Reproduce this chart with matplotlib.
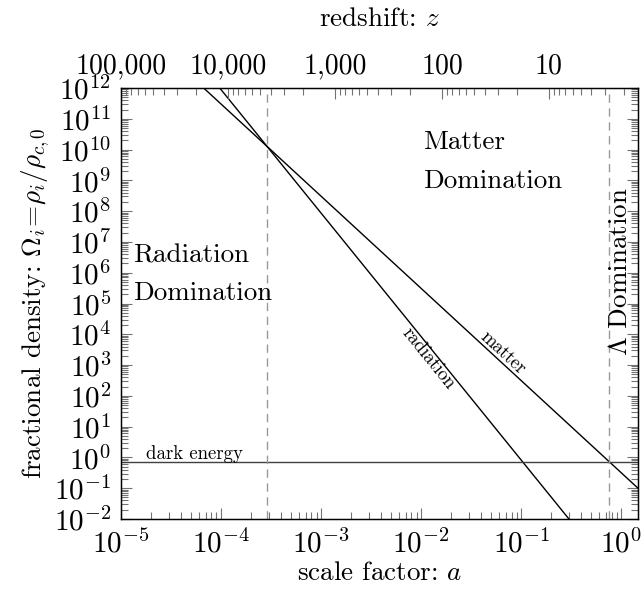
import matplotlib
matplotlib.use('Agg')
import matplotlib.pyplot as plt
import numpy as np
from matplotlib.ticker import LogLocator, NullFormatter, FixedLocator, FixedFormatter
from matplotlib.transforms import offset_copy

plt.rcParams.update({
    'font.family': 'serif',
    'font.serif': ['cmr10'],
    'mathtext.fontset': 'cm',
    'axes.formatter.use_mathtext': True,
    'font.size': 19.5,
})

# ---- data ----
radiation_a = [9.7e-5, 0.30]
radiation_rho = [1e12, 1e-2]
matter_a = [6.7e-5, 1.47]
matter_rho = [1e12, 0.1]
dark_a = [1e-5, 1.47]
dark_rho = [0.7, 0.7]
a_equality = 2.9e-4
a_lambda = 0.75
z_major = [100000, 10000, 1000, 100, 10]
z_labels = ['100,000', '10,000', '1,000', '100', '10']

a_lim = (1e-5, 1.47)
z_lim = (1e5, 1.47)
rho_lim = (1e-2, 1e12)

fig = plt.figure(figsize=(6.43, 5.97), dpi=100)
ax = fig.add_axes([121/643, 1-519/597, 517/643, 431/597])
ax.set_xscale('log')
ax.set_yscale('log')
ax.set_xlim(*a_lim)
ax.set_ylim(*rho_lim)

ax.plot(radiation_a, radiation_rho, color='black', lw=1.0)
ax.plot(matter_a, matter_rho, color='black', lw=1.0)
ax.plot(dark_a, dark_rho, color='0.25', lw=1.0)
ax.axvline(a_equality, color='0.6', ls=(0, (6, 4)), lw=1.0)
ax.axvline(a_lambda, color='0.6', ls=(0, (6, 4)), lw=1.0)

ax.xaxis.set_major_locator(LogLocator(base=10, numticks=30))
ax.xaxis.set_minor_locator(LogLocator(base=10, subs=np.arange(2, 10), numticks=30))
ax.yaxis.set_major_locator(LogLocator(base=10, numticks=30))
ax.yaxis.set_minor_locator(LogLocator(base=10, subs=np.arange(2, 10), numticks=30))
ax.xaxis.set_minor_formatter(NullFormatter())
ax.yaxis.set_minor_formatter(NullFormatter())
ax.tick_params(which='both', direction='in', top=True, right=True,
               labeltop=False, color='0.45', width=0.8, labelsize=21)
ax.tick_params(which='major', length=8)
ax.tick_params(which='minor', length=5)
ax.tick_params(axis='x', pad=7)
ax.tick_params(axis='y', pad=7)
for s in ax.spines.values():
    s.set_linewidth(1.0)

ax.set_xlabel(r'scale factor: $a$', labelpad=2)
ax.set_ylabel(r'fractional density: $\Omega_i\!=\!\rho_i/\rho_{c,0}$', labelpad=1)

# top redshift axis (its own reversed log scale, as in the reference)
ax2 = ax.twiny()
ax2.set_xscale('log')
ax2.set_xlim(*z_lim)
ax2.xaxis.set_major_locator(FixedLocator(z_major))
ax2.xaxis.set_major_formatter(FixedFormatter(z_labels))
ax2.xaxis.set_minor_locator(LogLocator(base=10, subs=np.arange(2, 10), numticks=30))
ax2.xaxis.set_minor_formatter(NullFormatter())
ax2.tick_params(which='both', direction='in', color='0.45', width=0.8)
ax2.tick_params(which='major', length=8, pad=6, labelsize=20)
ax2.tick_params(which='minor', length=5)
ax2.set_xlabel(r'redshift: $z$', labelpad=20)

# annotations
ax.text(1.32e-5, 10**6.32, 'Radiation', ha='left', va='baseline')
ax.text(1.32e-5, 10**5.12, 'Domination', ha='left', va='baseline')
ax.text(0.0105, 10**10.02, 'Matter', ha='left', va='baseline')
ax.text(0.0105, 10**8.75, 'Domination', ha='left', va='baseline')
ax.text(0.977, 10**6.03, r'$\Lambda$ Domination', rotation=90, ha='center', va='center')
ax.text(1.78e-5, 0.9, 'dark energy', fontsize=13.5, ha='left', va='baseline')


def line_label(xs, ys, at_a, text, offset_px):
    p0 = ax.transData.transform((xs[0], ys[0]))
    p1 = ax.transData.transform((xs[1], ys[1]))
    ang = np.arctan2(p1[1] - p0[1], p1[0] - p0[0])
    t = (np.log10(at_a) - np.log10(xs[0])) / (np.log10(xs[1]) - np.log10(xs[0]))
    at_rho = 10 ** (np.log10(ys[0]) + t * (np.log10(ys[1]) - np.log10(ys[0])))
    nx, ny = -np.sin(ang), np.cos(ang)
    tr = offset_copy(ax.transData, fig=fig, x=nx*offset_px, y=ny*offset_px, units='dots')
    ax.text(at_a, at_rho, text, fontsize=13.5, rotation=np.degrees(ang),
            rotation_mode='anchor', ha='center', va='center', transform=tr)


line_label(radiation_a, radiation_rho, 0.0138, 'radiation', -8)
line_label(matter_a, matter_rho, 0.0575, 'matter', 8)

fig.savefig('out.png', dpi=100)
